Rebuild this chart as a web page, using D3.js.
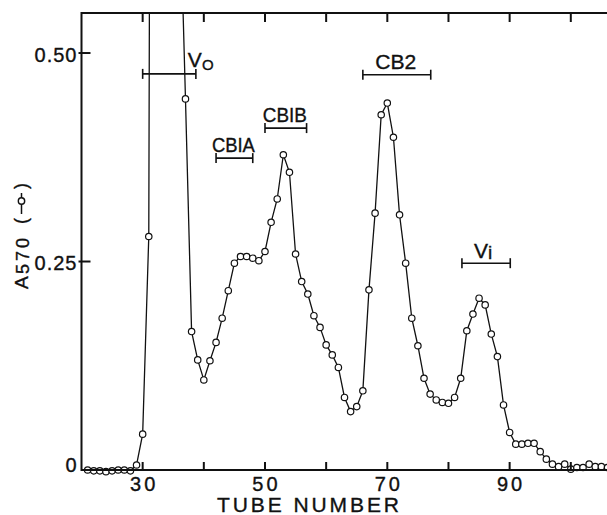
<!DOCTYPE html>
<html>
<head>
<meta charset="utf-8">
<script src="https://cdn.jsdelivr.net/npm/d3@7.9.0/dist/d3.min.js"></script>
<style>
  html, body { margin: 0; padding: 0; background: #fff; }
  svg { display: block; }
  text { font-family: "Liberation Sans", Arial, sans-serif; fill: #111; stroke: #111; stroke-width: 0.35; }
</style>
</head>
<body>
<svg id="chart" width="607" height="515"></svg>
<script>
// tube numbers and A570 readings (tubes 32-36 run off the top of the plot)
const tubes = [21, 22, 23, 24, 25, 26, 27, 28, 29, 30,
  31, 32, 33, 34, 35, 36, 37, 38, 39, 40,
  41, 42, 43, 44, 45, 46, 47, 48, 49, 50,
  51, 52, 53, 54, 55, 56, 57, 58, 59, 60,
  61, 62, 63, 64, 65, 66, 67, 68, 69, 70,
  71, 72, 73, 74, 75, 76, 77, 78, 79, 80,
  81, 82, 83, 84, 85, 86, 87, 88, 89, 90,
  91, 92, 93, 94, 95, 96, 97, 98, 99, 100,
  101, 102, 103, 104, 105, 106];
const absorbance = [0.000, -0.001, -0.001, -0.002, -0.001, 0.000, 0.000, -0.001, 0.006, 0.043,
  0.280, 3.00, 3.10, 2.60, 1.60, 0.71, 0.445, 0.166, 0.132, 0.108,
  0.131, 0.153, 0.182, 0.215, 0.248, 0.256, 0.256, 0.254, 0.251, 0.262,
  0.297, 0.325, 0.378, 0.357, 0.259, 0.226, 0.211, 0.185, 0.171, 0.150,
  0.138, 0.123, 0.087, 0.070, 0.076, 0.095, 0.216, 0.308, 0.426, 0.440,
  0.399, 0.306, 0.248, 0.182, 0.149, 0.110, 0.091, 0.084, 0.081, 0.080,
  0.087, 0.110, 0.167, 0.187, 0.206, 0.198, 0.163, 0.136, 0.078, 0.045,
  0.031, 0.031, 0.032, 0.032, 0.022, 0.013, 0.007, 0.004, 0.007, 0.001,
  0.003, 0.003, 0.007, 0.004, 0.004, 0.003];

// pooled fractions marked above the peaks
const bandNames = ['V', 'CBIA', 'CBIB', 'CB2', 'V'];
const bandSubs = ['O', '', '', '', 'i'];
const bandStart = [30, 42, 50, 66, 82.2];
const bandEnd = [38.7, 48, 56.8, 77.1, 90.1];
const bandLevel = [0.475, 0.374, 0.410, 0.474, 0.248];

const xTicks = [30, 40, 50, 60, 70, 80, 90, 100];
const xLabels = [30, 50, 70, 90];
const yTicks = [0.25, 0.5];
const yLabelValues = [0, 0.25, 0.5];
const yLabels = ['0', '0.25', '0.50'];

// rendered widths of the bracket captions
const captionWidth = { CBIA: 43, CBIB: 44, CB2: 41 };

const svg = d3.select('#chart');
svg.append('rect').attr('width', 607).attr('height', 515).attr('fill', '#fff');

const x = d3.scaleLinear().domain([20, 106]).range([81.5, 607.5]);
const y = d3.scaleLinear().domain([0, 0.548]).range([470, 13]);
const [x0r, x1r] = x.range();
const [yb, yt0] = y.range();

const points = tubes.map((t, i) => ({ t, v: absorbance[i] }));

svg.append('clipPath').attr('id', 'plot-clip')
  .append('rect').attr('x', x0r).attr('y', yt0).attr('width', 530).attr('height', 510);

const plot = svg.append('g').attr('clip-path', 'url(#plot-clip)');

let line = d3.line().x((d) => x(d.t)).y((d) => y(d.v));
plot.append('path')
  .datum(points)
  .attr('d', line)
  .attr('fill', 'none')
  .attr('stroke', '#111')
  .attr('stroke-width', 1.3);

plot.selectAll('circle')
  .data(points)
  .join('circle')
  .attr('cx', (d) => x(d.t))
  .attr('cy', (d) => y(d.v))
  .attr('r', 3.2)
  .attr('fill', '#fff')
  .attr('stroke', '#111')
  .attr('stroke-width', 1.2);

// frame: left, top and bottom edges
const frame = svg.append('g').attr('stroke', '#111').attr('fill', 'none');
frame.append('path')
  .attr('d', `M${x1r},${yt0}H${x0r}V${yb}H${x1r}`)
  .attr('stroke-width', 2);

// ticks point inward
frame.selectAll('.tb')
  .data(xTicks)
  .join('line')
  .attr('class', 'tb')
  .attr('x1', (d) => x(d)).attr('x2', (d) => x(d))
  .attr('y1', yb).attr('y2', yb - 8)
  .attr('stroke-width', 2);
frame.selectAll('.tt')
  .data(xTicks)
  .join('line')
  .attr('class', 'tt')
  .attr('x1', (d) => x(d)).attr('x2', (d) => x(d))
  .attr('y1', yt0).attr('y2', yt0 + 9)
  .attr('stroke-width', 2);
frame.selectAll('.tl')
  .data(yTicks)
  .join('line')
  .attr('class', 'tl')
  .attr('x1', x0r - 3).attr('x2', x0r + 9)
  .attr('y1', (d) => y(d)).attr('y2', (d) => y(d))
  .attr('stroke-width', 2);

svg.selectAll('.xl')
  .data(xLabels)
  .join('text')
  .attr('class', 'xl')
  .attr('x', (d) => x(d) + 1.5)
  .attr('y', yb + 21)
  .attr('text-anchor', 'middle')
  .attr('font-size', 20)
  .attr('letter-spacing', 3)
  .text((d) => d);

svg.selectAll('.yl')
  .data(yLabelValues)
  .join('text')
  .attr('class', 'yl')
  .attr('x', x0r - 4)
  .attr('y', (d) => y(d) + (d === 0 ? 2 : 8.5))
  .attr('text-anchor', 'end')
  .attr('font-size', 20)
  .attr('letter-spacing', 1)
  .text((d, i) => yLabels[i]);

svg.append('text')
  .attr('x', 217)
  .attr('y', 512)
  .attr('font-size', 21)
  .attr('textLength', 182)
  .text('TUBE NUMBER');

// y axis title: A570 (-o-)
const ytl = svg.append('g');
ytl.append('text')
  .attr('transform', 'translate(28,289) rotate(-90)')
  .attr('font-size', 19)
  .text('A');
ytl.append('text')
  .attr('transform', 'translate(29,274) rotate(-90)')
  .attr('font-size', 18)
  .attr('letter-spacing', 3)
  .text('570');
ytl.append('text')
  .attr('transform', 'translate(27,224) rotate(-90)')
  .attr('font-size', 18)
  .text('(');
ytl.append('line')
  .attr('x1', 21.5).attr('x2', 21.5).attr('y1', 193).attr('y2', 214)
  .attr('stroke', '#111').attr('stroke-width', 1.5);
ytl.append('circle')
  .attr('cx', 21.5).attr('cy', 201).attr('r', 3.2)
  .attr('fill', '#fff').attr('stroke', '#111').attr('stroke-width', 1.4);
ytl.append('text')
  .attr('transform', 'translate(27,189) rotate(-90)')
  .attr('font-size', 18)
  .text(')');

// fraction brackets
const bands = svg.append('g');
bandNames.forEach((name, i) => {
  const bx0 = x(bandStart[i]);
  const bx1 = x(bandEnd[i]);
  const by = y(bandLevel[i]);
  bands.append('line').attr('x1', bx0).attr('x2', bx1).attr('y1', by).attr('y2', by)
    .attr('stroke', '#111').attr('stroke-width', 1.6);
  [bx0, bx1].forEach((xe) => {
    bands.append('line').attr('x1', xe).attr('x2', xe).attr('y1', by - 5).attr('y2', by + 5)
      .attr('stroke', '#111').attr('stroke-width', 1.6);
  });
  if (bandSubs[i]) {
    const t = bands.append('text')
      .attr('font-size', 21)
      .attr('y', by - (i === 0 ? 7 : 5));
    if (i === 0) t.attr('x', bx1 - 8);
    else t.attr('x', (bx0 + bx1) / 2 - 12);
    t.append('tspan').text(name);
    t.append('tspan').attr('font-size', i === 0 ? 15 : 19).attr('dy', i === 0 ? 3 : 1).text(bandSubs[i]);
  } else {
    bands.append('text')
      .attr('font-size', 21)
      .attr('x', (bx0 + bx1) / 2 - 1 - captionWidth[name] / 2)
      .attr('y', by - 6)
      .attr('textLength', captionWidth[name])
      .attr('lengthAdjust', 'spacingAndGlyphs')
      .text(name);
  }
});
</script>
</body>
</html>
